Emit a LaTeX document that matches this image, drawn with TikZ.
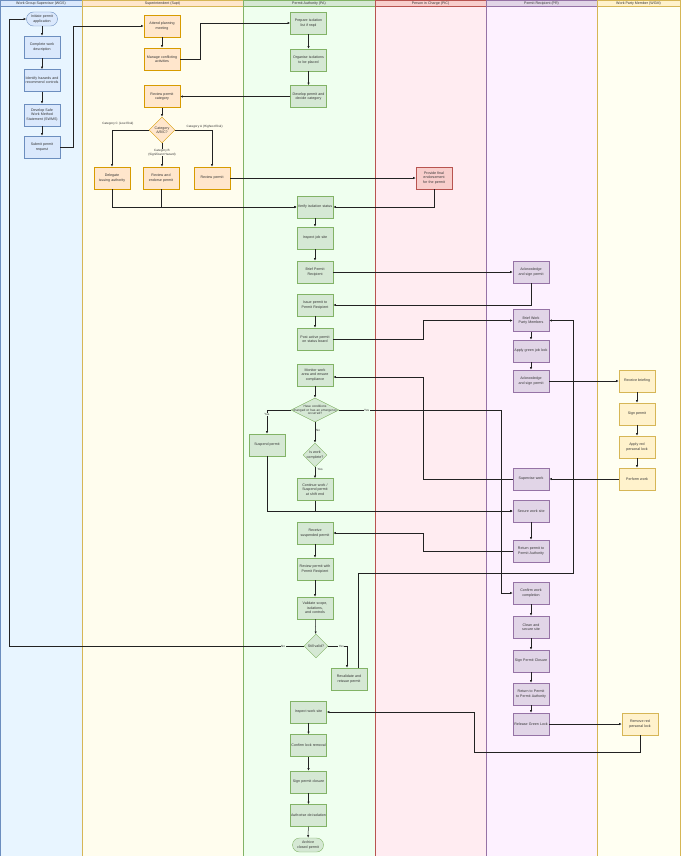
\documentclass[tikz,border=0pt]{standalone}
\usepackage{fontspec}
\setmainfont{Liberation Sans}
\usetikzlibrary{shapes.geometric,arrows.meta,positioning}

\definecolor{txtgray}{HTML}{333333}
\definecolor{linegray}{HTML}{222222}
% lanes
\definecolor{wgslane}{HTML}{E8F5FF}
\definecolor{suptlane}{HTML}{FFFDEE}
\definecolor{palane}{HTML}{EFFFEF}
\definecolor{piclane}{HTML}{FFECF1}
\definecolor{prlane}{HTML}{FDF1FF}
\definecolor{wpmlane}{HTML}{FFFFF2}
% boxes
\definecolor{wgsfill}{HTML}{DAE8FC}\definecolor{wgsline}{HTML}{6C8EBF}
\definecolor{suptfill}{HTML}{FFE6CC}\definecolor{suptline}{HTML}{D79B00}
\definecolor{pafill}{HTML}{D5E8D4}\definecolor{paline}{HTML}{82B366}
\definecolor{picfill}{HTML}{F8CECC}\definecolor{picline}{HTML}{B85450}
\definecolor{prfill}{HTML}{E1D5E7}\definecolor{prline}{HTML}{9673A6}
\definecolor{wpmfill}{HTML}{FFF2CC}\definecolor{wpmline}{HTML}{D6B656}

\hyphenpenalty=10000
\exhyphenpenalty=10000

\begin{document}
\begin{tikzpicture}
    [x=1pt, y=-1pt,
    font=\fontsize{3.6}{4.3}\selectfont,
    box/.style={rectangle, draw, line width=0.4pt, minimum width=36pt, minimum height=22pt,
        text width=35pt, align=center, inner sep=0.5pt, text=txtgray},
    wgsbox/.style={box, fill=wgsfill, draw=wgsline},
    suptbox/.style={box, fill=suptfill, draw=suptline},
    pabox/.style={box, fill=pafill, draw=paline},
    picbox/.style={box, fill=picfill, draw=picline},
    prbox/.style={box, fill=prfill, draw=prline},
    wpmbox/.style={box, fill=wpmfill, draw=wpmline},
    terminal/.style={box, rounded corners=7pt, minimum width=31pt, minimum height=14pt, text width=30pt},
    decision/.style={diamond, draw, line width=0.4pt, inner sep=-4pt, align=center, text=txtgray},
    flow/.style={draw=linegray, line width=0.5pt, -{Latex[length=2.6pt,width=2.2pt]}},
    lbl/.style={font=\fontsize{3.1}{3.7}\selectfont, text=txtgray, inner sep=0.4pt, align=center},
    lanehead/.style={font=\fontsize{3.6}{4.2}\selectfont, text=txtgray}]
    \useasboundingbox (0,0) rectangle (680,856);

    %% Swimlanes
    \draw[fill=wgslane, draw=wgsline] (0,0) rectangle (82,856);
    \draw[fill=suptlane, draw=wpmline] (82,0) rectangle (243,856);
    \draw[fill=palane, draw=paline] (243,0) rectangle (375,856);
    \draw[fill=piclane, draw=picline] (375,0) rectangle (486,856);
    \draw[fill=prlane, draw=prline] (486,0) rectangle (597,856);
    \draw[fill=wpmlane, draw=wpmline] (597,0) rectangle (680,856);
    \draw[fill=wgsfill, draw=wgsline] (0,0) rectangle (82,6.5);
    \draw[fill=suptfill, draw=wpmline] (82,0) rectangle (243,6.5);
    \draw[fill=pafill, draw=paline] (243,0) rectangle (375,6.5);
    \draw[fill=picfill, draw=picline] (375,0) rectangle (486,6.5);
    \draw[fill=prfill, draw=prline] (486,0) rectangle (597,6.5);
    \draw[fill=wpmfill, draw=wpmline] (597,0) rectangle (680,6.5);
    \node[lanehead] (hWGS) at (41,3.3) {Work Group Supervisor (WGS)};
    \node[lanehead] (hSupt) at (162.5,3.3) {Superintendent (Supt)};
    \node[lanehead] (hPA) at (309,3.3) {Permit Authority (PA)};
    \node[lanehead] (hPIC) at (430.5,3.3) {Person in Charge (PIC)};
    \node[lanehead] (hPR) at (541.5,3.3) {Permit Recipient (PR)};
    \node[lanehead] (hWPM) at (638.5,3.3) {Work Party Member (WGM)};

    %% WGS
    \node[terminal, fill=wgsfill, draw=wgsline] (initiate) at (42,19) {Initiate permit application};
    \node[wgsbox] (complete) at (42,47) {Complete work description};
    \node[wgsbox] (identify) at (42,80.5) {Identify hazards and recommend controls};
    \node[wgsbox] (swms) at (42,115) {Develop Safe Work Method Statement (SWMS)};
    \node[wgsbox] (submit) at (42,147) {Submit permit request};

    %% Supt
    \node[suptbox] (attend) at (162,26) {Attend planning meeting};
    \node[suptbox] (manage) at (162,59) {Manage conflicting activities};
    \node[suptbox] (reviewcat) at (162,96.5) {Review permit category};
    \node[decision, fill=suptfill, draw=suptline, minimum width=26pt, minimum height=26pt] (category) at (162,130) {Category\\A/B/C?};
    \node[suptbox] (delegate) at (112,178) {Delegate issuing authority};
    \node[suptbox] (endorse) at (161,178) {Review and endorse permit};
    \node[suptbox] (reviewa) at (212,178) {Review permit};

    %% PA
    \node[pabox] (prepiso) at (308.5,23) {Prepare isolation list if reqd};
    \node[pabox] (organise) at (308.5,60) {Organise isolations to be placed};
    \node[pabox] (develop) at (308.5,96.5) {Develop permit and decide category};
    \node[pabox] (verify) at (315,207) {Verify isolation status};
    \node[pabox] (inspectjob) at (315,238) {Inspect job site};
    \node[pabox] (briefpr) at (315,272) {Brief Permit Recipient};
    \node[pabox] (issue) at (315,305) {Issue permit to Permit Recipient};
    \node[pabox] (post) at (315,339) {Post active permit on status board};
    \node[pabox] (monitor) at (315,375) {Monitor work area and ensure compliance};
    \node[decision, fill=pafill, draw=paline, font=\fontsize{3.2}{3.8}\selectfont, text width=46pt, inner sep=-7pt, minimum width=48pt, minimum height=24pt, aspect=2] (changed) at (315,410) {Have conditions\\changed or has an emergency\\occurred?};
    \node[pabox] (suspend) at (267,445) {Suspend permit};
    \node[decision, fill=pafill, draw=paline, minimum width=24pt, minimum height=24pt] (workdone) at (315,455) {Is work\\complete?};
    \node[pabox] (continue) at (315,489.5) {Continue work / Suspend permit at shift end};
    \node[pabox] (recsusp) at (315,533) {Receive suspended permit};
    \node[pabox] (reviewpr) at (315,569) {Review permit with Permit Recipient};
    \node[pabox] (validate) at (315,608) {Validate scope, isolations, and controls};
    \node[decision, fill=pafill, draw=paline, minimum width=24pt, minimum height=24pt] (valid) at (316,646) {Still valid?};
    \node[pabox] (revalidate) at (349,679) {Revalidate and reissue permit};
    \node[pabox] (inspectws) at (308.5,712) {Inspect work site};
    \node[pabox] (confirmlock) at (308.5,745.5) {Confirm lock removal};
    \node[pabox] (signclose) at (308.5,782) {Sign permit closure};
    \node[pabox] (deiso) at (308.5,815.5) {Authorise de-isolation};
    \node[terminal, fill=pafill, draw=paline] (archive) at (308,845) {Archive closed permit};

    %% PIC
    \node[picbox] (finalend) at (434,178) {Provide final endorsement for the permit};

    %% PR
    \node[prbox] (ackone) at (531,272) {Acknowledge and sign permit};
    \node[prbox] (briefwp) at (531,320.5) {Brief Work Party Members};
    \node[prbox] (greenlock) at (531,351) {Apply green job lock};
    \node[prbox] (acktwo) at (531,381) {Acknowledge and sign permit};
    \node[prbox] (supervise) at (531,479) {Supervise work};
    \node[prbox] (secure) at (531,511) {Secure work site};
    \node[prbox] (returnpa) at (531,551) {Return permit to Permit Authority};
    \node[prbox] (confirmwc) at (531,593) {Confirm work completion};
    \node[prbox] (clean) at (531,627) {Clean and secure site};
    \node[prbox] (signpc) at (531,661) {Sign Permit Closure};
    \node[prbox] (returnto) at (531,694) {Return to Permit to Permit Authority};
    \node[prbox] (releasegreen) at (531,724) {Release Green Lock};

    %% WPM
    \node[wpmbox] (recbrief) at (637,381) {Receive briefing};
    \node[wpmbox] (signwp) at (637,414) {Sign permit};
    \node[wpmbox] (redlock) at (637,447) {Apply red personal lock};
    \node[wpmbox] (perform) at (637,479) {Perform work};
    \node[wpmbox] (removered) at (640,724) {Remove red personal lock};

    %% Connectors
    \draw[flow] (initiate) to (complete);
    \draw[flow] (complete) to (identify);
    \draw[flow] (identify) to (swms);
    \draw[flow] (swms) to (submit);
    \draw[flow] (submit.east) -- ++(13,0) |- (attend.west);
    \draw[flow] (attend) to (manage);
    \draw[flow] (manage.east) -- ++(20,0) |- (prepiso.west);
    \draw[flow] (prepiso) to (organise);
    \draw[flow] (organise) to (develop);
    \draw[flow] (develop.west) -- (reviewcat.east);
    \draw[flow] (reviewcat) to (category);
    \draw[flow] (category.west) -| node[lbl, pos=0.42, above=4pt] {Category C (Low Risk)} (delegate.north);
    \draw[flow] (category.south) -- node[lbl, fill=suptlane, pos=0.4] {Category B\\(Significant Hazard)} (endorse.north -| category.south);
    \draw[flow] (category.east) -| node[lbl, pos=0.4, above=1.5pt] {Category A (Highest Risk)} (reviewa.north);
    \draw[flow] (reviewa.east) -- (finalend.west);
    \draw[flow] (delegate.south) |- (verify.west);
    \draw[flow] (endorse.south) |- (verify.west);
    \draw[flow] (finalend.south) |- (verify.east);
    \draw[flow] (verify) to (inspectjob);
    \draw[flow] (inspectjob) to (briefpr);
    \draw[flow] (briefpr.east) -- (ackone.west);
    \draw[flow] (ackone.south) |- (issue.east);
    \draw[flow] (issue) to (post);
    \draw[flow] (post.east) -- ++(90,0) |- (briefwp.west);
    \draw[flow] (briefwp) to (greenlock);
    \draw[flow] (greenlock) to (acktwo);
    \draw[flow] (acktwo.east) -- (recbrief.west);
    \draw[flow] (recbrief) to (signwp);
    \draw[flow] (signwp) to (redlock);
    \draw[flow] (redlock) to (perform);
    \draw[flow] (perform.west) -- (supervise.east);
    \draw[flow] (supervise.west) -- ++(-90,0) |- ([yshift=-2pt]monitor.east);
    \draw[flow] (monitor) to (changed);
    \draw[flow] (changed.west) -| node[lbl, fill=palane, pos=0.5, below=2.5pt] {Yes} (suspend.north);
    \draw[flow] (changed.south) -- node[lbl, fill=palane, pos=0.4, right=0.5pt] {No} (workdone.north);
    \draw[flow] (changed.east) -- node[lbl, fill=palane, pos=0.17] {Yes} ++(162,0) |- (confirmwc.west);
    \draw[flow] (workdone.south) -- node[lbl, fill=palane, pos=0.2, right=2pt] {Yes} (continue.north);
    \draw[flow] (suspend.south) |- (secure.west);
    \draw[flow] (continue.south) |- (secure.west);
    \draw[flow] (secure) to (returnpa);
    \draw[flow] (returnpa.west) -- ++(-90,0) |- (recsusp.east);
    \draw[flow] (recsusp) to (reviewpr);
    \draw[flow] (reviewpr) to (validate);
    \draw[flow] (validate) to (valid);
    \draw[flow] (valid.west) -- node[lbl, fill=palane, pos=0.07] {No} ++(-295,0) |- (initiate.west);
    \draw[flow] (valid.east) -| node[lbl, fill=palane, pos=0.35] {Yes} ([xshift=-2pt]revalidate.north);
    \draw[flow] ([xshift=9pt]revalidate.north) -- ++(0,-95) -- ++(215,0) |- (briefwp.east);
    \draw[flow] (confirmwc) to (clean);
    \draw[flow] (clean) to (signpc);
    \draw[flow] (signpc) to (returnto);
    \draw[flow] (returnto) to (releasegreen);
    \draw[flow] (releasegreen.east) -- (removered.west);
    \draw[flow] (removered.south) -- ++(0,17) -- ++(-166,0) |- (inspectws.east);
    \draw[flow] (inspectws) to (confirmlock);
    \draw[flow] (confirmlock) to (signclose);
    \draw[flow] (signclose) to (deiso);
    \draw[flow] (deiso) to (archive);
\end{tikzpicture}
\end{document}
